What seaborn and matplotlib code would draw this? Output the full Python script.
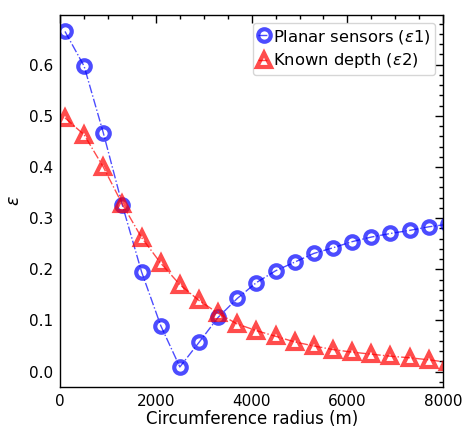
import numpy as np
import pandas as pd
import matplotlib
matplotlib.use("Agg")
import matplotlib.pyplot as plt
from matplotlib.ticker import MultipleLocator
import seaborn as sns

# Circumference radius (m) and relative errors for the two methods
radius = [100, 500, 900, 1300, 1700, 2100, 2500, 2900, 3300, 3700, 4100,
          4500, 4900, 5300, 5700, 6100, 6500, 6900, 7300, 7700, 8100]
eps_planar = [0.665, 0.597, 0.467, 0.325, 0.195, 0.090, 0.009, 0.057, 0.106,
              0.143, 0.174, 0.197, 0.214, 0.231, 0.242, 0.254, 0.263, 0.270,
              0.276, 0.283, 0.288]
eps_depth = [0.496, 0.463, 0.400, 0.327, 0.262, 0.212, 0.170, 0.139, 0.114,
             0.093, 0.080, 0.069, 0.058, 0.050, 0.043, 0.038, 0.034, 0.030,
             0.027, 0.023, 0.018]

df = pd.DataFrame({"r": radius, "e1": eps_planar, "e2": eps_depth})

sns.set_style("white")
plt.rcParams["font.family"] = ["DejaVu Sans"]
plt.rcParams["font.size"] = 10
for key in ("text.color", "axes.labelcolor", "xtick.color", "ytick.color"):
    plt.rcParams[key] = "black"

fig = plt.figure(figsize=(4.63, 4.28), dpi=100)
ax = fig.add_axes([0.13, 0.096, 0.827, 0.870])

sns.lineplot(data=df, x="r", y="e1", ax=ax, color="blue", alpha=0.7,
             linestyle="-.", linewidth=1.0, marker="o", markersize=9,
             markerfacecolor="none", markeredgecolor="blue",
             markeredgewidth=3, label=r"Planar sensors ($\epsilon1$)")
sns.lineplot(data=df, x="r", y="e2", ax=ax, color="red", alpha=0.7,
             linestyle="-.", linewidth=1.0, marker="^", markersize=10,
             markerfacecolor="none", markeredgecolor="red",
             markeredgewidth=3, label=r"Known depth ($\epsilon2$)")

ax.set_xlim(0, 8000)
ax.set_ylim(-0.03, 0.698)
ax.xaxis.set_major_locator(MultipleLocator(2000))
ax.xaxis.set_minor_locator(MultipleLocator(500))
ax.yaxis.set_major_locator(MultipleLocator(0.1))
ax.yaxis.set_minor_locator(MultipleLocator(0.02))
ax.tick_params(which="both", direction="in", top=True, right=True,
               labelsize=11, colors="black", pad=5)
ax.tick_params(which="major", length=6, width=1)
ax.tick_params(which="minor", length=3, width=1)
for s in ax.spines.values():
    s.set_color("black")
    s.set_linewidth(1)

ax.set_xlabel("Circumference radius (m)", fontsize=12, labelpad=0.5)
ax.set_ylabel(r"$\epsilon$", fontsize=12.5)

ax.legend(loc="upper right", fontsize=11.8, handlelength=0.7,
          handletextpad=0.2, borderpad=0.3, borderaxespad=0.5,
          labelspacing=0.35, frameon=True)

fig.savefig("out.png", dpi=100)
